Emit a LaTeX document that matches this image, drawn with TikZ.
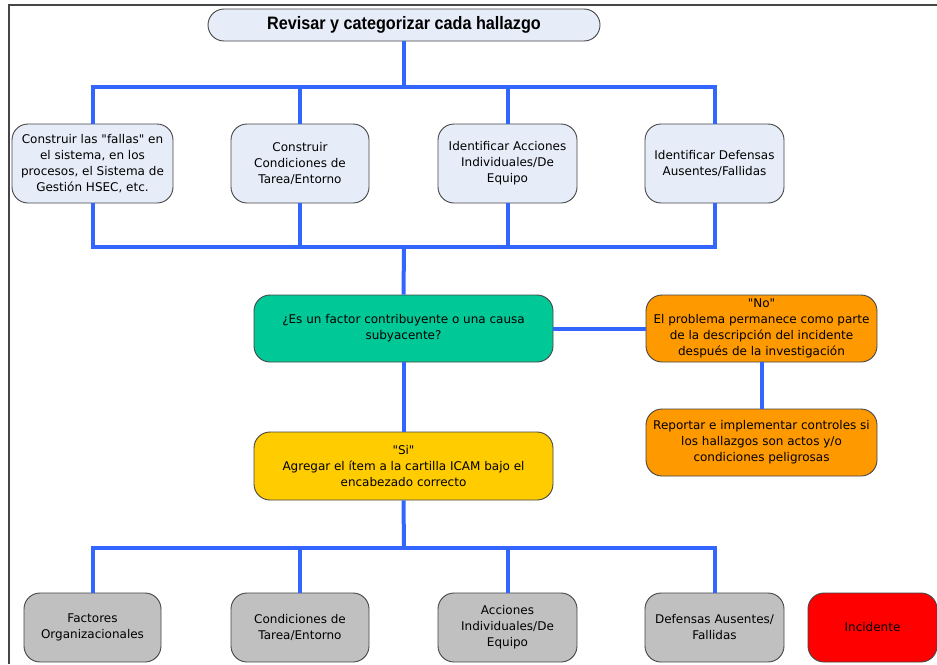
\documentclass[tikz,border=0pt]{standalone}
\usepackage{fontspec}
\setmainfont{DejaVu Sans}
\newfontfamily\titlefont[FakeStretch=0.9]{Liberation Sans}
\definecolor{bus}{RGB}{51,102,255}
\definecolor{lightbox}{RGB}{230,236,248}
\definecolor{greenbox}{RGB}{0,200,150}
\definecolor{orangebox}{RGB}{255,153,0}
\definecolor{yellowbox}{RGB}{255,204,0}
\definecolor{graybox}{RGB}{192,192,192}
\definecolor{redbox}{RGB}{255,0,0}
\definecolor{edge}{RGB}{70,70,70}
\newcommand{\qq}{\textquotedbl}
\begin{document}
\begin{tikzpicture}[x=1pt,y=-1pt,
  box/.style={draw=edge, line width=0.9pt, rounded corners=16pt, align=center,
    font=\fontsize{12}{16}\selectfont, inner sep=2pt},
  lbox/.style={box, fill=lightbox, minimum height=79pt},
  gbox/.style={box, fill=graybox, minimum height=69pt},
  conn/.style={draw=bus, line width=4pt}
]
\useasboundingbox (0,0) rectangle (937,664);
\fill[white] (0,0) rectangle (937,664);
\draw[edge, line width=1.3pt] (9,664) -- (9,5) -- (937,5);

\node[draw=edge, line width=0.9pt, fill=lightbox, rounded corners=16pt,
  minimum width=392pt, minimum height=32pt, font=\titlefont\bfseries\fontsize{18}{20}\selectfont]
  (title) at (404,25) {Revisar y categorizar cada hallazgo};

\node[lbox, minimum width=161pt] (b1) at (92.5,163.5) {Construir las \qq fallas\qq{} en\\el sistema, en los\\procesos, el Sistema de\\Gestión HSEC, etc.};
\node[lbox, minimum width=138pt] (b2) at (300,163.5) {Construir\\Condiciones de\\Tarea/Entorno};
\node[lbox, minimum width=139pt] (b3) at (507.5,163.5) {Identificar Acciones\\Individuales/De\\Equipo};
\node[lbox, minimum width=139pt] (b4) at (714.5,163.5) {Identificar Defensas\\Ausentes/Fallidas};

\node[box, fill=greenbox, minimum width=299pt, minimum height=67pt] (dec) at (403.5,328.5) {¿Es un factor contribuyente o una causa\\subyacente?};
\node[box, fill=orangebox, minimum width=231pt, minimum height=67pt] (no) at (761.5,328.5) {\qq No\qq\\El problema permanece como parte\\de la descripción del incidente\\después de la investigación};
\node[box, fill=orangebox, minimum width=231pt, minimum height=67pt] (rep) at (761.5,442.5) {Reportar e implementar controles si\\los hallazgos son actos y/o\\condiciones peligrosas};
\node[box, fill=yellowbox, minimum width=299pt, minimum height=68pt] (si) at (403.5,466) {\qq Si\qq\\Agregar el ítem a la cartilla ICAM bajo el\\encabezado correcto};

\node[gbox, minimum width=137pt] (g1) at (92.5,627.5) {Factores\\Organizacionales};
\node[gbox, minimum width=138pt] (g2) at (300,627.5) {Condiciones de\\Tarea/Entorno};
\node[gbox, minimum width=139pt] (g3) at (507.5,627.5) {Acciones\\Individuales/De\\Equipo};
\node[gbox, minimum width=139pt] (g4) at (714.5,627.5) {Defensas Ausentes/\\Fallidas};
\node[gbox, fill=redbox, minimum width=129pt] (inc) at (872.5,627.5) {Incidente};

\coordinate (j1) at (404,87);
\coordinate (j2) at (404,247);
\coordinate (j3) at (404,548);

\draw[conn] (title.south) -- (j1);
\draw[conn] (b1.north) |- (j1) -| (b4.north);
\draw[conn] (b2.north) -- (b2.north |- j1);
\draw[conn] (b3.north) -- (b3.north |- j1);

\draw[conn] (b1.south) |- (j2) -| (b4.south);
\draw[conn] (b2.south) -- (b2.south |- j2);
\draw[conn] (b3.south) -- (b3.south |- j2);
\draw[conn] (j2) -- (dec.north);

\draw[conn] (dec.east) -- (no.west);
\draw[conn] (no.south) -- (rep.north);
\draw[conn] (dec.south) -- (si.north);

\draw[conn] (si.south) -- (j3);
\draw[conn] (g1.north) |- (j3) -| (g4.north);
\draw[conn] (g2.north) -- (g2.north |- j3);
\draw[conn] (g3.north) -- (g3.north |- j3);
\end{tikzpicture}
\end{document}
